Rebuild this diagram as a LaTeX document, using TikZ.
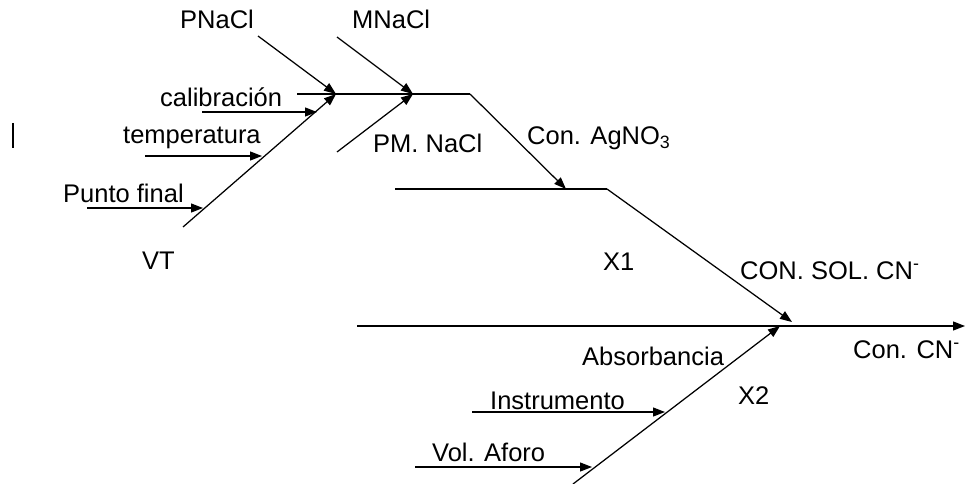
\documentclass[tikz,border=0pt]{standalone}
\usepackage{fontspec}
\setmainfont{Liberation Sans}
\usetikzlibrary{arrows.meta}
\begin{document}
\begin{tikzpicture}[x=1pt,y=-1pt,
  bone/.style={line width=1.25pt, line cap=butt},
  cause/.style={bone, -{Triangle[length=12pt,width=9pt]}},
  lbl/.style={anchor=base west, inner sep=0pt, font=\fontsize{25.5pt}{30pt}\selectfont}]
\useasboundingbox (0,0) rectangle (966,484);

% small vertical mark at the left edge
\draw[line width=2pt] (13,123) -- (13,148);

% --- junction points and free ends of the bones ---
\coordinate (s0) at (297,94);
\coordinate (j1) at (336,94);
\coordinate (j2) at (413,94);
\coordinate (k1) at (470,94);
\coordinate (t1) at (566,189);
\coordinate (x1a) at (395,189);
\coordinate (x1b) at (607,189);
\coordinate (t2) at (792,322);
\coordinate (m0) at (357,326);
\coordinate (m1) at (965,326);
\coordinate (t3) at (780,326);

\coordinate (pnacl0) at (258,36);
\coordinate (mnacl0) at (337,37);
\coordinate (pmnacl0) at (337,152);
\coordinate (vt0) at (183,227);
\coordinate (cal0) at (202,112);  \coordinate (cal1) at (317,112);
\coordinate (tem0) at (145,156);  \coordinate (tem1) at (262,156);
\coordinate (pf0) at (87,208);    \coordinate (pf1) at (203,208);
\coordinate (x20) at (573,484);
\coordinate (ins0) at (472,412);  \coordinate (ins1) at (665,412);
\coordinate (vol0) at (415,467);  \coordinate (vol1) at (592,467);

% --- labels ---
\node[lbl] (lpnacl) at (180,29) {PNaCl};
\node[lbl] (lmnacl) at (352,29) {MNaCl};
\node[lbl] (lcal) at (160,107) {calibración};
\node[lbl] (ltem) at (123,143) {temperatura};
\node[lbl] (lpf) at (63,202) {Punto final};
\node[lbl] (lvt) at (142,269) {VT};
\node[lbl] (lpm) at (373,153) {PM. NaCl};
\node[lbl] (lag) at (527,145) {Con. AgNO\textsubscript{3}};
\node[lbl] (lx1) at (603,270) {X1};
\node[lbl] (lsol) at (740,279) {CON. SOL. CN\textsuperscript{-}};
\node[lbl] (lcn) at (853,358) {Con. CN\textsuperscript{-}};
\node[lbl] (labs) at (582,365) {Absorbancia};
\node[lbl] (lx2) at (738,404) {X2};
\node[lbl] (lins) at (490,409) {Instrumento};
\node[lbl] (lvol) at (432,461) {Vol. Aforo};

% --- upper bones (VT and concentration of AgNO3) ---
\draw[bone] (s0) -- (k1);
\draw[cause] (k1) -- (t1);
\draw[cause] (pnacl0) -- (j1);
\draw[cause] (vt0) -- (j1);
\draw[cause] (mnacl0) -- (j2);
\draw[cause] (pmnacl0) -- (j2);
\draw[cause] (cal0) -- (cal1);
\draw[cause] (tem0) -- (tem1);
\draw[cause] (pf0) -- (pf1);

% --- X1 bone into the main spine ---
\draw[bone] (x1a) -- (x1b);
\draw[cause] (x1b) -- (t2);

% --- main spine ---
\draw[cause] (m0) -- (m1);

% --- X2 bone ---
\draw[cause] (x20) -- (t3);
\draw[cause] (ins0) -- (ins1);
\draw[cause] (vol0) -- (vol1);
\end{tikzpicture}
\end{document}
